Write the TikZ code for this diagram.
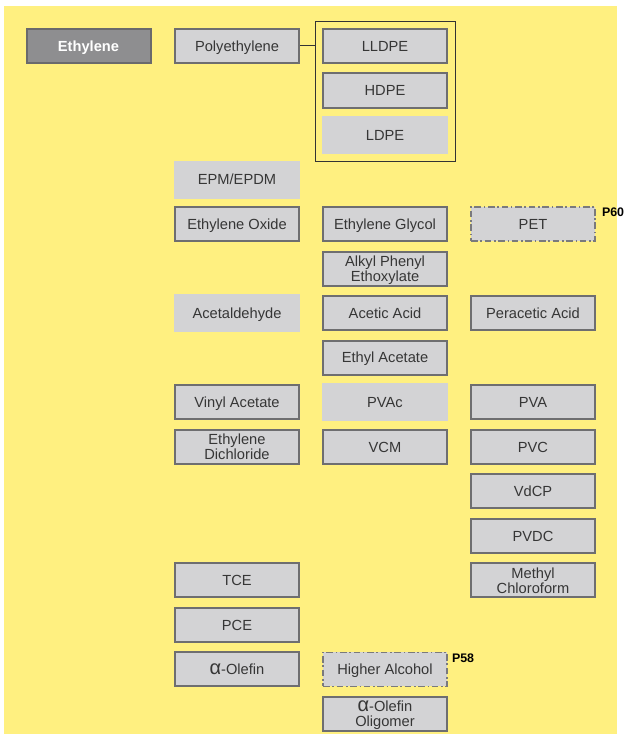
\documentclass[tikz,border=0pt]{standalone}
\usepackage{fontspec}
\setmainfont{Liberation Sans}
\usetikzlibrary{fit}
\definecolor{sheet}{HTML}{FFF080}
\definecolor{boxfill}{HTML}{D3D3D5}
\definecolor{boxline}{HTML}{6E6E70}
\definecolor{boxtext}{HTML}{363636}
\definecolor{feedfill}{HTML}{8E8E90}
\definecolor{feedline}{HTML}{6A6A6C}
\definecolor{dashline}{HTML}{7A7A7C}
\newcommand\boxfont{\fontsize{11}{11}\selectfont}
\newcommand\alphaglyph{{\fontsize{15}{11}\selectfont α}}
\tikzset{
  chembox/.style={draw=boxline, line width=1.5pt, fill=boxfill, minimum width=93pt,
    minimum height=25.5pt, inner sep=0pt, align=center, font=\boxfont, text=boxtext,
    text height=7.9pt, text depth=0pt},
  twoline/.style={text height=18.9pt},
  flatbox/.style={chembox, draw=none, minimum width=94.5pt, minimum height=28.5pt},
  feedbox/.style={chembox, draw=feedline, fill=feedfill, text=white, font=\boxfont\bfseries},
  planbox/.style={chembox, draw=dashline, line width=1.1pt,
    dash pattern=on 5pt off 2pt on 1.2pt off 2pt},
  pageref/.style={anchor=north west, inner sep=0pt, font=\fontsize{9.3}{10}\selectfont\bfseries},
  frameline/.style={draw=black!80, line width=0.75pt},
}
\begin{document}
\begin{tikzpicture}[x=0.75pt, y=-0.75pt]
			%%%%% SHEET %%%%%
			\useasboundingbox (0, 0) rectangle (624, 735);
			\fill[sheet] (4, 6) rectangle (617, 734);
			
			%%%%% POLYOLEFINS %%%%%
			\node[feedbox] (ethylene) at (88.5, 46) {Ethylene};
			\node[chembox] (poly) at (237, 46) {Polyethylene};
			\node[chembox] (lldpe) at (385, 46) {LLDPE};
			\node[chembox] (hdpe) at (385, 90.5) {HDPE};
			\node[flatbox] (ldpe) at (385, 135.1) {LDPE};
			\node[frameline, fit=(lldpe)(hdpe)(ldpe), inner sep=4.5pt] (peframe) {};
			\draw[frameline] (poly.east) -- (poly.east -| peframe.west);
			
			\node[flatbox] (epm) at (237, 179.6) {EPM/EPDM};
			
			%%%%% OXIDE / ACETYLS %%%%%
			\node[chembox] (oxide) at (237, 224.1) {Ethylene Oxide};
			\node[chembox] (glycol) at (385, 224.1) {Ethylene Glycol};
			\node[planbox] (pet) at (533, 224.1) {PET};
			\node[pageref] (p60) at ([xshift=4.5pt, yshift=-1.2pt]pet.north east) {P60};
			
			\node[chembox, twoline] (ethoxylate) at (385, 268.7) {Alkyl Phenyl\\Ethoxylate};
			
			\node[flatbox] (acetald) at (237, 313.2) {Acetaldehyde};
			\node[chembox] (acetic) at (385, 313.2) {Acetic Acid};
			\node[chembox] (peracetic) at (533, 313.2) {Peracetic Acid};
			
			\node[chembox] (ethylac) at (385, 357.7) {Ethyl Acetate};
			
			%%%%% VINYLS / CHLORINATED %%%%%
			\node[chembox] (vinylac) at (237, 402.2) {Vinyl Acetate};
			\node[flatbox] (pvac) at (385, 402.2) {PVAc};
			\node[chembox] (pva) at (533, 402.2) {PVA};
			
			\node[chembox, twoline] (edc) at (237, 446.8) {Ethylene\\Dichloride};
			\node[chembox] (vcm) at (385, 446.8) {VCM};
			\node[chembox] (pvc) at (533, 446.8) {PVC};
			
			\node[chembox] (vdcp) at (533, 491.3) {VdCP};
			\node[chembox] (pvdc) at (533, 535.8) {PVDC};
			
			\node[chembox] (tce) at (237, 580.4) {TCE};
			\node[chembox, twoline] (methylcl) at (533, 580.4) {Methyl\\Chloroform};
			
			\node[chembox] (pce) at (237, 624.9) {PCE};
			
			%%%%% OLEFINS %%%%%
			\node[chembox] (olefin) at (237, 669.4) {\alphaglyph-Olefin};
			\node[planbox] (alcohol) at (385, 669.4) {Higher Alcohol};
			\node[pageref] (p58) at ([xshift=3pt, yshift=-1.5pt]alcohol.north east) {P58};
			
			\node[chembox, twoline] (oligomer) at (385, 714) {\alphaglyph-Olefin\\Oligomer};
			%%%%% END %%%%%
		\end{tikzpicture}
\end{document}
